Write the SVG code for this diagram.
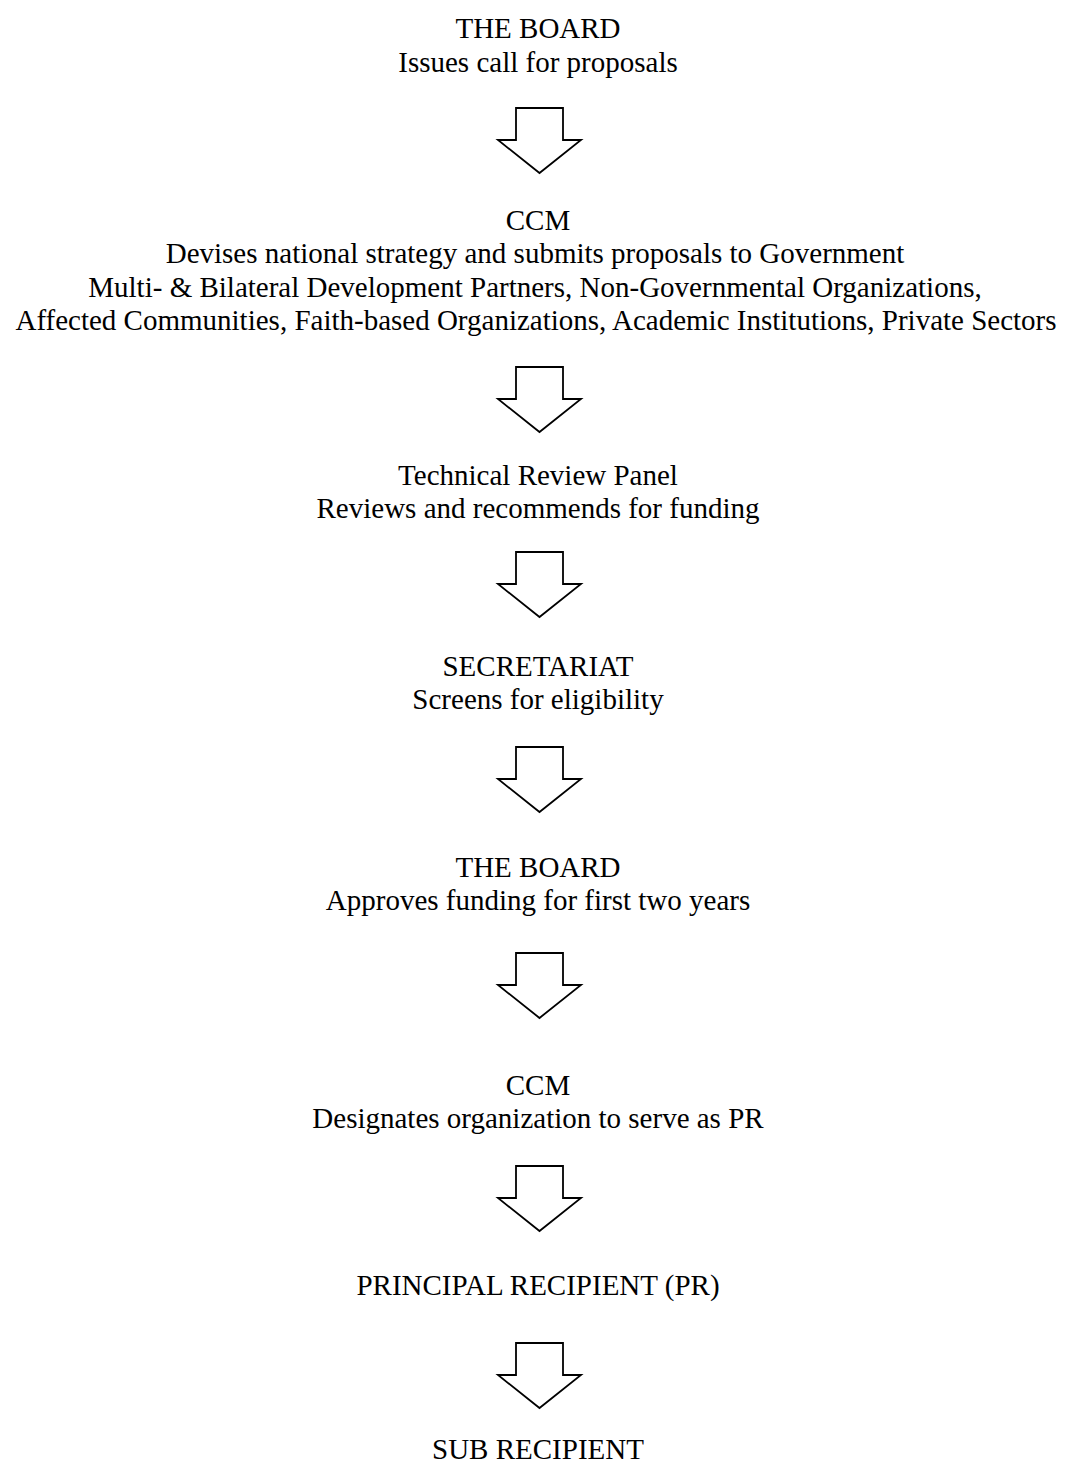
<svg xmlns="http://www.w3.org/2000/svg" width="1072" height="1463" viewBox="0 0 1072 1463">
<style>
text{font-family:"Liberation Serif","Times New Roman",serif;font-size:29px;fill:#000;text-anchor:middle}
.arr{fill:#fff;stroke:#000;stroke-width:1.8;stroke-linejoin:miter}
</style>
<defs>
<path id="arrow" class="arr" d="M516,0 H563 V32 H581 L539.5,65 L498,32 H516 Z"/>
</defs>
<rect width="1072" height="1463" fill="#fff"/>
<g id="n1"><text x="538" y="38">THE BOARD</text><text x="538" y="72">Issues call for proposals</text></g>
<g id="n2"><text x="538" y="230">CCM</text><text x="535" y="263">Devises national strategy and submits proposals to Government</text><text x="535" y="297">Multi- &amp; Bilateral Development Partners, Non-Governmental Organizations,</text><text x="536" y="330">Affected Communities, Faith-based Organizations, Academic Institutions, Private Sectors</text></g>
<g id="n3"><text x="538" y="485">Technical Review Panel</text><text x="538" y="518">Reviews and recommends for funding</text></g>
<g id="n4"><text x="538" y="676">SECRETARIAT</text><text x="538" y="709">Screens for eligibility</text></g>
<g id="n5"><text x="538" y="877">THE BOARD</text><text x="538" y="910">Approves funding for first two years</text></g>
<g id="n6"><text x="538" y="1095">CCM</text><text x="538" y="1128">Designates organization to serve as PR</text></g>
<g id="n7"><text x="538" y="1295">PRINCIPAL RECIPIENT (PR)</text></g>
<g id="n8"><text x="538" y="1459">SUB RECIPIENT</text></g>
<g id="connectors">
<use href="#arrow" y="108"/>
<use href="#arrow" y="367"/>
<use href="#arrow" y="552"/>
<use href="#arrow" y="747"/>
<use href="#arrow" y="953"/>
<use href="#arrow" y="1166"/>
<use href="#arrow" y="1343"/>
</g>
</svg>
